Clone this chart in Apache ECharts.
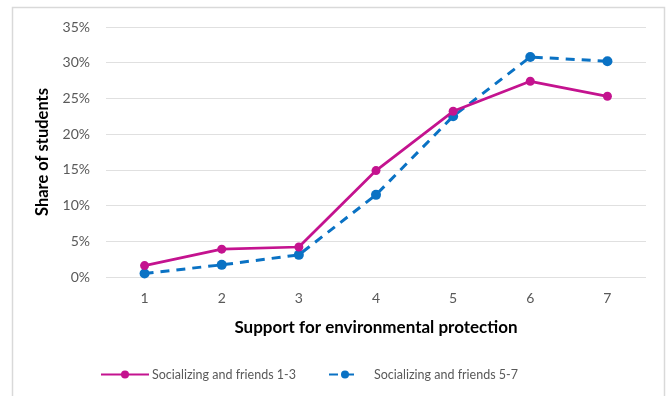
<!DOCTYPE html>
<html>
<head>
<meta charset="utf-8">
<script src="https://cdn.jsdelivr.net/npm/echarts@6/dist/echarts.min.js"></script>
<style>
  html, body { margin: 0; padding: 0; background: #fff; }
  #chart { width: 671px; height: 396px; }
</style>
</head>
<body>
<div id="chart"></div>
<script>
// Support for environmental protection (1-7) by socializing group
const categories = ['1', '2', '3', '4', '5', '6', '7'];
const friendsLow = [0.016, 0.039, 0.042, 0.149, 0.232, 0.274, 0.253];   // Socializing and friends 1-3
const friendsHigh = [0.005, 0.017, 0.031, 0.115, 0.225, 0.308, 0.302]; // Socializing and friends 5-7
const seriesNames = ['Socializing and friends 1-3', 'Socializing and friends 5-7'];
const yMax = 0.35;
const yStep = 0.05;

const FONT = 'Lato, "Open Sans", sans-serif';
const PINK = '#C4138F';
const BLUE = '#0A72C4';

const chart = echarts.init(document.getElementById('chart'), null, { renderer: 'canvas' });

chart.setOption({
  backgroundColor: '#ffffff',
  animation: false,
  textStyle: { fontFamily: FONT },
  graphic: [{
    type: 'rect',
    shape: { x: 12.5, y: 7.5, width: 652, height: 400 },
    style: { fill: 'none', stroke: '#d9d9d9', lineWidth: 1.5 },
    z: -1
  }],
  grid: { left: 106, right: 25, top: 27, bottom: 119 },
  legend: [{
    data: [seriesNames[0]],
    left: 100, top: 368, padding: 0,
    itemWidth: 48, itemHeight: 10, itemGap: 4,
    textStyle: { color: '#595959', fontSize: 12.5, fontFamily: FONT, padding: [0, 0, 0, -2] }
  }, {
    data: [seriesNames[1]],
    left: 328, top: 368, padding: 0,
    itemWidth: 32, itemHeight: 10,
    textStyle: { color: '#595959', fontSize: 12.5, fontFamily: FONT, padding: [0, 0, 0, 8] }
  }],
  xAxis: {
    type: 'category',
    data: categories,
    boundaryGap: true,
    name: 'Support for environmental protection',
    nameLocation: 'middle',
    nameGap: 42,
    nameTextStyle: { color: '#000', fontSize: 17, fontWeight: 'bold', fontFamily: FONT },
    axisLine: { show: false },
    axisTick: { show: false },
    axisLabel: { color: '#595959', fontSize: 14, margin: 14, fontFamily: FONT }
  },
  yAxis: {
    type: 'value',
    min: 0, max: yMax, interval: yStep,
    name: 'Share of students',
    nameLocation: 'middle',
    nameGap: 49,
    nameTextStyle: { color: '#000', fontSize: 16.5, fontWeight: 'bold', fontFamily: FONT },
    axisLine: { show: false },
    axisTick: { show: false },
    axisLabel: {
      color: '#595959', fontSize: 14, margin: 16, fontFamily: FONT,
      formatter: v => Math.round(v * 100) + '%'
    },
    splitLine: { lineStyle: { color: '#e0e0e0', width: 1 } }
  },
  series: [{
    name: seriesNames[0],
    type: 'line',
    data: friendsLow,
    symbol: 'circle',
    symbolSize: 9,
    itemStyle: { color: PINK },
    lineStyle: { color: PINK, width: 2.75 },
    z: 3
  }, {
    name: seriesNames[1],
    type: 'line',
    data: friendsHigh,
    symbol: 'circle',
    symbolSize: 10,
    itemStyle: { color: BLUE },
    lineStyle: { color: BLUE, width: 3, type: [9, 7] },
    z: 2
  }]
});
</script>
</body>
</html>
